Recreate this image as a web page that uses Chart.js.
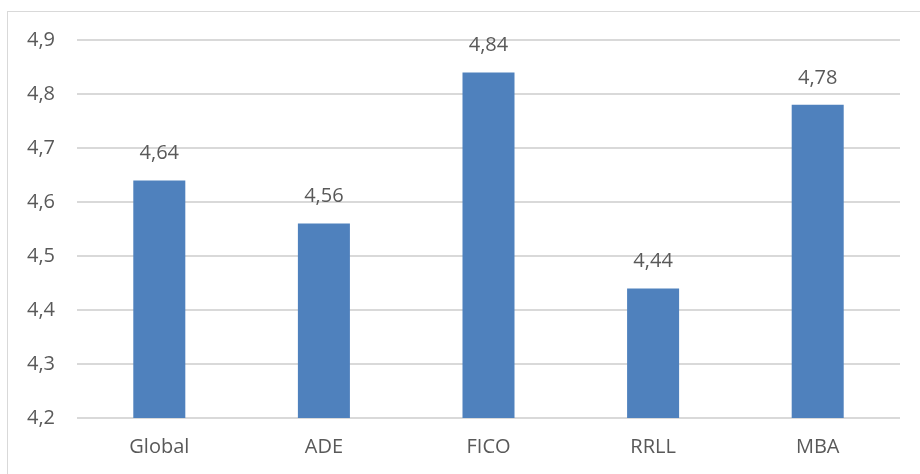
<!DOCTYPE html>
<html>
<head>
<meta charset="utf-8">
<script src="https://cdn.jsdelivr.net/npm/chart.js@4"></script>
<style>
  html, body { margin: 0; padding: 0; background: #fff; overflow: hidden; }
  #wrap { position: relative; width: 920px; height: 474px; }
  #frame { position: absolute; left: 7px; top: 11px; width: 940px; height: 500px; border: 1px solid #d9d9d9; }
  canvas { position: absolute; left: 0; top: 0; }
</style>
</head>
<body>
<div id="wrap">
  <div id="frame"></div>
  <canvas id="chart" width="920" height="474"></canvas>
</div>
<script>
const categories = ['Global', 'ADE', 'FICO', 'RRLL', 'MBA'];
const scores = [4.64, 4.56, 4.84, 4.44, 4.78];
const yMin = 4.2;
const yMax = 4.9;

const fontFamily = "'Open Sans', 'Liberation Sans', sans-serif";
const textColor = '#595959';

const fmt = (v) => v.toFixed(2).replace(/0$/, '').replace('.', ',');

// value labels above the bars
const barLabels = {
  id: 'barLabels',
  afterDatasetsDraw(chart) {
    const ctx = chart.ctx;
    const meta = chart.getDatasetMeta(0);
    ctx.save();
    ctx.font = '20px ' + fontFamily;
    ctx.fillStyle = textColor;
    ctx.textAlign = 'center';
    ctx.textBaseline = 'middle';
    meta.data.forEach((bar, i) => {
      ctx.fillText(fmt(scores[i]), bar.x, bar.y - 27);
    });
    ctx.restore();
  }
};

new Chart(document.getElementById('chart'), {
  type: 'bar',
  data: {
    labels: categories,
    datasets: [{
      data: scores,
      backgroundColor: '#4f81bd',
      barPercentage: 0.316,
      categoryPercentage: 1.0
    }]
  },
  options: {
    responsive: false,
    animation: false,
    layout: { padding: { top: 40, right: 20, left: 0, bottom: 0 } },
    plugins: {
      legend: { display: false },
      tooltip: { enabled: false }
    },
    scales: {
      x: {
        grid: { display: false, drawTicks: false },
        border: { display: false },
        ticks: {
          color: textColor,
          font: { family: fontFamily, size: 20 },
          padding: 17
        },
        afterFit: (s) => { s.height = 56; }
      },
      y: {
        min: yMin,
        max: yMax,
        grid: { color: '#d9d9d9', lineWidth: 2, drawTicks: false },
        border: { display: false },
        ticks: {
          stepSize: 0.1,
          color: textColor,
          font: { family: fontFamily, size: 20 },
          padding: 22,
          callback: (v) => v.toFixed(1).replace('.', ',')
        },
        afterFit: (s) => { s.width = 77; }
      }
    }
  },
  plugins: [barLabels]
});
</script>
</body>
</html>
